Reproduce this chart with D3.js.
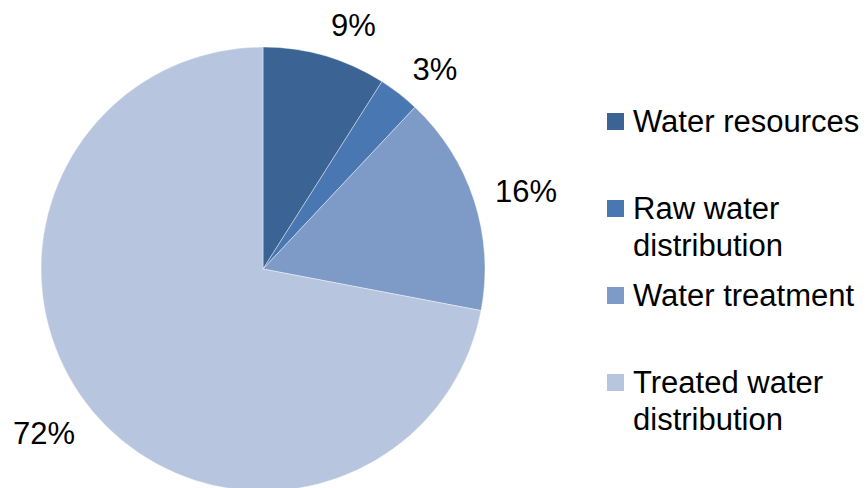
<!DOCTYPE html>
<html lang="en">
 <head>
 <meta charset="UTF-8">
 <title>Water cost breakdown</title>
 <script src="https://unpkg.com/d3@7/dist/d3.min.js"></script>
 <style>
   body { margin: 0; background: #fff; }
   text { font-family: "Liberation Sans", Arial, sans-serif; fill: #000; }
 </style>
 </head>
 <body>
 <script>
   var categories = ["Water resources", "Raw water distribution", "Water treatment", "Treated water distribution"];
   var legendLines = [["Water resources"], ["Raw water", "distribution"], ["Water treatment"], ["Treated water", "distribution"]];
   var values = [9, 3, 16, 72];
   var colors = ["#3b6495", "#4877b2", "#7e9bc8", "#b7c5df"];

   var width = 867, height = 488;
   var cx = 263, cy = 269, radius = 222;
   var fontSize = 31;

   var svg = d3.select("body").append("svg")
     .attr("width", width)
     .attr("height", height);

   var pie = d3.pie().sort(null).value(d => d)(values);
   var arc = d3.arc().innerRadius(0).outerRadius(radius);

   var g = svg.append("g").attr("transform", "translate(" + cx + "," + cy + ")");

   g.selectAll("path")
     .data(pie)
     .enter()
     .append("path")
     .attr("d", arc)
     .attr("fill", (d, i) => colors[i])
     .attr("stroke", "#ffffff")
     .attr("stroke-width", 0.4);

   // labels: anchored just outside the rim, box corner nearest the pie
   var labelR = 244, capH = 22;
   g.selectAll("text.lbl")
     .data(pie)
     .enter()
     .append("text")
     .attr("class", "lbl")
     .attr("font-size", fontSize)
     .each(function(d) {
       var a = (d.startAngle + d.endAngle) / 2;
       var x = labelR * Math.sin(a), y = -labelR * Math.cos(a);
       d3.select(this)
         .attr("x", x)
         .attr("y", y + capH * (1 - Math.cos(a)) / 2 + 1)
         .attr("text-anchor", Math.sin(a) >= 0 ? "start" : "end");
     })
     .text(d => d.data + "%");

   // legend
   var legendY = d3.scalePoint().domain(categories).range([132, 393]);
   var legend = svg.append("g");
   categories.forEach(function(c, i) {
     var y = legendY(c);
     legend.append("rect")
       .attr("x", 607).attr("y", y - 19)
       .attr("width", 17).attr("height", 17)
       .attr("fill", colors[i]);
     var t = legend.append("text")
       .attr("x", 633).attr("y", y)
       .attr("font-size", fontSize);
     legendLines[i].forEach(function(line, j) {
       t.append("tspan").attr("x", 633).attr("dy", j === 0 ? 0 : 37).text(line);
     });
   });
 </script>
 </body>
</html>
